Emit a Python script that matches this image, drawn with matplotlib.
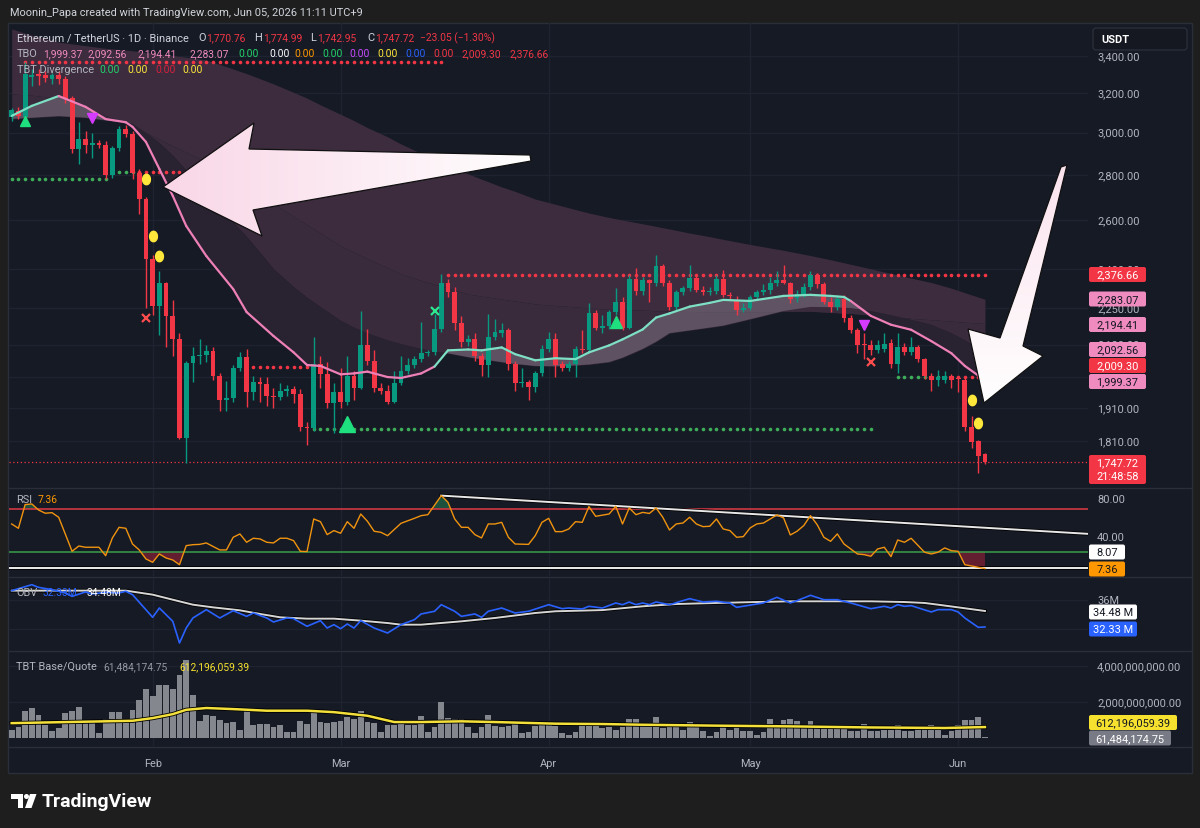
import numpy as np
import matplotlib
matplotlib.use("Agg")
import matplotlib.pyplot as plt
import matplotlib.patheffects as pe
from matplotlib.colors import LinearSegmentedColormap
from matplotlib.patches import Polygon, Rectangle, FancyBboxPatch, Circle

plt.rcParams['font.family'] = ['Roboto', 'DejaVu Sans']

# ETH/USDT daily candles, index 0 = 2026-01-11, last = 2026-06-05
opens = [3078, 3110, 3080, 3285, 3305, 3295, 3278, 3300, 3275, 3175,
         2920, 2970, 2940, 2948, 2940, 2800, 2925, 3020, 2995, 2810,
         2690, 2440, 2260, 2345, 2220, 2140, 1820, 2058, 2080, 2085,
         2098, 2015, 1935, 1942, 2040, 2078, 1960, 1993, 1987, 1950,
         1945, 1965, 1970, 1955, 1853, 1848, 2055, 2020, 1925, 1960,
         1931, 2015, 1975, 2120, 2065, 1975, 1965, 1930, 1990, 2030,
         2050, 2070, 2090, 2095, 2175, 2345, 2310, 2195, 2130, 2140,
         2080, 2050, 2145, 2160, 2170, 2055, 1990, 1993, 1978, 2025,
         2105, 2140, 2055, 2040, 2055, 2105, 2100, 2232, 2180, 2185,
         2235, 2275, 2180, 2360, 2315, 2355, 2345, 2410, 2345, 2255,
         2310, 2325, 2365, 2320, 2310, 2315, 2360, 2300, 2280, 2245,
         2252, 2290, 2310, 2318, 2345, 2355, 2345, 2288, 2305, 2330,
         2375, 2340, 2275, 2255, 2285, 2215, 2170, 2120, 2118, 2100,
         2105, 2125, 2055, 2110, 2095, 2110, 2070, 2015, 2000, 2002,
         2015, 2006, 2000, 1852, 1810, 1770.76]
highs = [3125, 3130, 3370, 3330, 3330, 3320, 3310, 3320, 3290, 3185,
         3055, 3010, 3000, 2965, 2960, 2935, 3035, 3040, 3010, 2825,
         2700, 2455, 2390, 2350, 2280, 2160, 2065, 2110, 2140, 2120,
         2110, 2025, 1998, 2050, 2095, 2105, 2015, 2010, 2010, 1975,
         1990, 1985, 1980, 1970, 1868, 2145, 2080, 2060, 1990, 2040,
         2080, 2030, 2240, 2175, 2100, 1990, 1985, 2030, 2080, 2075,
         2080, 2200, 2100, 2230, 2381, 2360, 2330, 2220, 2155, 2160,
         2090, 2230, 2210, 2197, 2180, 2065, 2040, 2000, 2030, 2120,
         2165, 2160, 2065, 2065, 2115, 2170, 2270, 2245, 2225, 2245,
         2325, 2290, 2375, 2405, 2370, 2360, 2455, 2420, 2355, 2320,
         2335, 2415, 2380, 2335, 2330, 2375, 2395, 2310, 2295, 2270,
         2300, 2320, 2340, 2370, 2390, 2415, 2350, 2320, 2345, 2390,
         2385, 2350, 2290, 2300, 2300, 2225, 2180, 2160, 2135, 2135,
         2160, 2140, 2160, 2125, 2145, 2120, 2075, 2025, 2035, 2030,
         2020, 2010, 2010, 1885, 1812, 1774.99]
lows = [3060, 3070, 3070, 3240, 3245, 3260, 3250, 3250, 3150, 2900,
        2850, 2900, 2880, 2925, 2780, 2785, 2910, 2980, 2780, 2625,
        2250, 2225, 2155, 2110, 2080, 1815, 1746, 1995, 2055, 2060,
        2000, 1900, 1900, 1930, 2030, 1915, 1935, 1930, 1918, 1910,
        1935, 1950, 1925, 1840, 1797, 1840, 1975, 1910, 1834, 1910,
        1920, 1935, 1970, 2050, 1960, 1955, 1922, 1925, 1985, 2020,
        2040, 2060, 2080, 2085, 2165, 2290, 2170, 2110, 2115, 2065,
        2015, 2010, 2135, 2145, 2034, 1965, 1978, 1935, 1960, 2015,
        2095, 2010, 2030, 2030, 2010, 2090, 2095, 2170, 2160, 2175,
        2225, 2170, 2175, 2300, 2300, 2275, 2335, 2335, 2245, 2245,
        2300, 2315, 2310, 2300, 2300, 2305, 2290, 2285, 2225, 2235,
        2245, 2280, 2300, 2305, 2335, 2340, 2270, 2275, 2290, 2320,
        2325, 2265, 2235, 2245, 2200, 2160, 2090, 2070, 2085, 2090,
        2095, 2040, 2025, 2085, 2085, 2060, 2005, 1965, 1980, 1990,
        1975, 1960, 1840, 1790, 1717, 1742.95]
closes = [3113, 3085, 3305, 3300, 3290, 3280, 3298, 3275, 3170, 2920,
          2970, 2940, 2948, 2940, 2800, 2925, 3020, 2995, 2810, 2690,
          2440, 2260, 2345, 2220, 2140, 1820, 2058, 2080, 2085, 2098,
          2015, 1935, 1942, 2040, 2078, 1960, 1993, 1987, 1950, 1945,
          1965, 1970, 1955, 1853, 1848, 2055, 2020, 1925, 1960, 1931,
          2015, 1975, 2120, 2065, 1975, 1965, 1930, 1990, 2030, 2050,
          2070, 2090, 2095, 2175, 2345, 2310, 2195, 2130, 2140, 2080,
          2050, 2145, 2165, 2170, 2055, 1990, 1993, 1978, 2025, 2105,
          2140, 2050, 2040, 2055, 2105, 2100, 2232, 2180, 2185, 2235,
          2275, 2180, 2360, 2315, 2355, 2345, 2410, 2345, 2255, 2310,
          2325, 2365, 2320, 2310, 2315, 2360, 2300, 2295, 2245, 2252,
          2290, 2310, 2320, 2345, 2355, 2345, 2285, 2305, 2330, 2375,
          2340, 2275, 2255, 2285, 2215, 2170, 2120, 2118, 2100, 2120,
          2122, 2055, 2110, 2095, 2110, 2070, 2015, 2000, 2010, 2015,
          2000, 2004, 1852, 1808, 1765, 1747.72]

# TBT Base/Quote volume, billions
volume_bn = [0.46, 0.59, 1.48, 1.67, 1.30, 0.74, 0.41, 0.56, 1.39, 1.48,
             1.70, 0.83, 0.83, 0.28, 1.06, 1.43, 1.43, 1.02, 1.56, 2.13,
             2.72, 2.31, 2.93, 2.93, 2.72, 3.52, 4.35, 2.41, 0.96, 1.30,
             1.20, 1.02, 0.83, 0.87, 0.43, 1.67, 0.70, 0.80, 0.80, 0.59,
             0.74, 0.33, 0.31, 0.96, 0.80, 1.39, 0.87, 0.83, 0.89, 0.96,
             1.15, 1.07, 1.52, 0.87, 0.83, 0.33, 0.74, 0.74, 0.96, 0.74,
             0.74, 1.20, 0.31, 0.59, 1.98, 1.11, 1.06, 1.06, 0.61, 0.28,
             0.61, 1.30, 0.67, 0.61, 0.67, 0.80, 0.28, 0.33, 0.69, 0.80,
             0.74, 0.69, 0.28, 0.19, 0.31, 0.74, 0.87, 0.80, 0.56, 0.61,
             0.46, 0.59, 1.06, 1.06, 0.65, 0.65, 1.17, 0.56, 0.59, 0.65,
             0.46, 0.87, 0.80, 0.37, 0.13, 0.31, 0.59, 0.46, 0.74, 0.37,
             0.37, 0.19, 0.33, 1.06, 0.69, 0.98, 1.06, 0.96, 0.61, 0.93,
             0.59, 0.59, 0.59, 0.56, 0.59, 0.41, 0.41, 0.80, 0.41, 0.41,
             0.46, 0.46, 0.70, 0.41, 0.37, 0.56, 0.56, 0.70, 0.59, 0.19,
             0.41, 0.74, 1.02, 1.02, 1.17, 0.061]
vol_ma_idx = [0, 18, 21, 24, 26, 29, 33, 38, 44, 48, 53, 57, 61, 67, 72, 78,
              81, 88, 94, 105, 116, 128, 139, 145]
vol_ma_val = [0.83, 0.96, 1.11, 1.33, 1.57, 1.67, 1.61, 1.52, 1.52, 1.44, 1.24,
              0.89, 0.89, 0.93, 0.89, 0.83, 0.80, 0.78, 0.74, 0.69, 0.65, 0.59,
              0.56, 0.612]

# TBO lines, read at these candle positions
band_idx = [0, 3, 7, 11, 14, 17, 18, 20, 22, 24, 26, 29, 33, 35, 39, 42, 44, 46,
            49, 51, 53, 56, 58, 61, 63, 65, 68, 70, 73, 75, 78, 81, 84, 86, 89,
            91, 94, 96, 98, 101, 104, 106, 110, 115, 119, 122, 124, 125, 128,
            131, 134, 137, 140, 142, 145]
tbo_fast = [3084, 3135, 3186, 3130, 3068, 3052, 3029, 2955, 2827, 2705, 2575,
            2451, 2322, 2236, 2150, 2093, 2050, 2047, 2019, 2022, 2028, 2010,
            2007, 2022, 2045, 2100, 2103, 2100, 2110, 2087, 2066, 2073, 2070,
            2093, 2117, 2138, 2173, 2216, 2231, 2256, 2270, 2281, 2277, 2296,
            2300, 2296, 2292, 2277, 2222, 2190, 2172, 2132, 2090, 2047, 1999.37]
tbo_mid1 = [3069, 3075, 3083, 3075, 3062, 3050, 3045, 3000, 2950, 2890, 2820,
            2720, 2590, 2530, 2400, 2330, 2290, 2255, 2205, 2180, 2160, 2135,
            2122, 2105, 2097, 2090, 2077, 2070, 2060, 2054, 2047, 2046, 2049,
            2052, 2060, 2075, 2105, 2130, 2160, 2170, 2180, 2187, 2210, 2240,
            2255, 2254, 2252, 2251, 2240, 2225, 2208, 2190, 2160, 2135, 2092.56]
tbo_mid2 = [3197, 3190, 3175, 3130, 3085, 3045, 3029, 3000, 2968, 2936, 2905,
            2860, 2780, 2745, 2672, 2615, 2580, 2545, 2493, 2466, 2440, 2405,
            2380, 2355, 2340, 2326, 2303, 2295, 2284, 2277, 2266, 2260, 2255,
            2251, 2246, 2245, 2243, 2241, 2240, 2238, 2237, 2236, 2236, 2238,
            2239, 2235, 2232, 2231, 2225, 2219, 2213, 2208, 2203, 2199, 2194.41]
tbo_slow = [3556, 3520, 3480, 3460, 3445, 3435, 3431, 3422, 3413, 3404, 3395,
            3380, 3330, 3305, 3250, 3205, 3175, 3140, 3092, 3060, 3025, 2980,
            2945, 2900, 2875, 2845, 2804, 2780, 2745, 2725, 2691, 2668, 2645,
            2630, 2611, 2600, 2584, 2573, 2562, 2545, 2530, 2519, 2498, 2474,
            2453, 2436, 2424, 2418, 2400, 2382, 2364, 2347, 2325, 2308, 2283.07]

# dotted support / resistance levels
level_start = [0, 2, 15, 19, 36, 45, 65, 132, 141]
level_end = [14, 64, 18, 33, 44, 128, 145, 140, 145]
level_price = [2781, 3370, 2813, 2813, 2043, 1846, 2376.66, 2009.30, 2009.30]
level_kind = ['sup', 'res', 'sup', 'res', 'res', 'sup', 'res', 'sup', 'res']

# signal markers
up_idx = [2, 50, 90]
up_price = [3059, 1861, 2200]
up_size = [7, 12, 9]
down_idx = [12, 127]
down_price = [3074, 2189]
drop_idx = [20, 21, 22, 143, 144]
drop_price = [2781, 2533, 2451, 1936, 1864]
xred_idx = [20, 128]
xred_price = [2214, 2060]
xgreen_idx = [63]
xgreen_price = [2240]

# RSI
rsi_idx = [0, 1, 2, 3, 4, 5, 6, 7, 9, 10, 11, 13, 14, 15, 16, 17, 18, 19, 20,
           21, 22, 23, 24, 25, 26, 27, 28, 29, 31, 32, 33, 34, 35, 36, 37, 38,
           39, 40, 41, 42, 43, 44, 45, 46, 47, 48, 49, 50, 51, 52, 53, 54, 55,
           56, 58, 60, 61, 62, 64, 65, 66, 67, 68, 69, 70, 71, 72, 73, 74, 75,
           77, 78, 79, 80, 81, 82, 83, 84, 85, 86, 87, 89, 90, 91, 92, 93, 94,
           95, 96, 97, 98, 99, 100, 101, 102, 103, 104, 105, 106, 107, 108, 109,
           110, 111, 112, 113, 114, 115, 116, 117, 118, 119, 120, 121, 122, 123,
           124, 126, 127, 128, 129, 130, 131, 132, 133, 134, 136, 137, 138, 139,
           140, 141, 142, 144, 145]
rsi_val = [53.9, 49.4, 74.1, 74.8, 68.5, 65.1, 65.7, 60.9, 25.4, 30.9, 29.6,
           29.6, 20.8, 39.3, 50.4, 49.4, 33.0, 26.8, 17.4, 13.9, 22.6, 18.4,
           16.3, 11.4, 31.3, 32.3, 32.6, 34.1, 26.8, 26.8, 40.0, 43.5, 34.8,
           39.0, 38.3, 34.8, 34.1, 39.0, 39.0, 36.5, 25.4, 25.1, 59.1, 56.3,
           42.8, 47.0, 44.2, 56.3, 49.4, 64.3, 56.7, 46.3, 45.2, 41.7, 54.6,
           59.8, 62.6, 63.6, 83.5, 76.5, 59.1, 50.4, 50.4, 42.8, 39.3, 53.9,
           53.9, 55.6, 40.0, 33.0, 32.6, 41.7, 55.6, 59.8, 45.9, 45.9, 48.7,
           56.3, 55.6, 72.0, 61.9, 64.3, 72.3, 53.9, 70.6, 63.6, 66.0, 64.9,
           70.6, 60.9, 47.6, 53.9, 54.9, 60.9, 53.9, 51.1, 51.5, 59.1, 48.7,
           47.0, 40.0, 40.7, 49.7, 53.9, 54.9, 59.1, 63.3, 60.2, 42.4, 46.3,
           52.2, 62.6, 53.2, 40.0, 35.8, 43.5, 33.0, 22.6, 21.9, 20.2, 27.8,
           29.6, 19.8, 37.2, 34.8, 39.0, 24.4, 22.6, 24.4, 28.9, 26.0, 25.4,
           11.4, 8.7, 7.36]
rsi_trend_idx = [64, 160.6]
rsi_trend_val = [83.5, 43.5]
rsi_floor = 8.07

# OBV (millions) and its moving average
obv_idx = [0, 3, 4, 6, 8, 9, 11, 12, 14, 16, 17, 18, 21, 22, 24, 25, 26, 27, 29,
           31, 33, 35, 36, 38, 39, 41, 42, 44, 46, 47, 48, 49, 50, 51, 52, 54,
           56, 58, 60, 61, 63, 64, 66, 67, 69, 70, 71, 73, 75, 77, 80, 82, 83,
           85, 86, 88, 90, 91, 92, 93, 94, 95, 96, 98, 101, 103, 105, 107, 108,
           111, 112, 114, 116, 117, 119, 121, 123, 125, 128, 130, 131, 132, 133,
           134, 137, 138, 140, 141, 142, 144, 145]
obv_val = [37.22, 38.02, 37.66, 37.35, 36.90, 36.45, 37.04, 36.77, 36.99, 36.90,
           37.13, 36.68, 33.63, 34.88, 33.09, 30.17, 32.19, 33.54, 34.66, 33.54,
           34.52, 33.76, 34.21, 33.54, 33.00, 33.54, 33.45, 32.42, 33.18, 32.19,
           32.64, 32.10, 32.73, 32.19, 33.18, 32.19, 31.52, 32.64, 33.31, 34.08,
           34.44, 35.33, 34.44, 33.76, 34.08, 33.63, 34.44, 34.88, 34.21, 34.44,
           35.33, 34.79, 34.88, 34.75, 35.11, 34.88, 35.56, 35.33, 35.69, 35.33,
           35.56, 35.33, 35.69, 35.33, 36.14, 35.69, 35.78, 35.56, 34.97, 35.42,
           35.56, 36.32, 35.56, 35.87, 36.59, 36.00, 36.00, 35.56, 34.79, 35.11,
           34.88, 35.33, 35.11, 35.20, 34.35, 34.66, 34.66, 34.35, 33.54, 32.28,
           32.33]
obv_ma_idx = [0, 17, 21, 24, 27, 30, 34, 37, 40, 44, 48, 52, 56, 58, 61, 67, 72,
              78, 81, 88, 94, 99, 105, 111, 116, 122, 128, 133, 136, 138, 141, 145]
obv_ma_val = [37.22, 37.22, 36.68, 36.0, 35.33, 34.97, 34.57, 34.08, 33.63, 33.45,
              33.45, 33.18, 32.86, 32.64, 32.64, 33.09, 33.54, 34.21, 34.44, 34.60,
              35.11, 35.42, 35.56, 35.69, 35.78, 35.78, 35.78, 35.69, 35.56, 35.33,
              34.97, 34.48]

month_idx = [21, 49, 80, 110, 141]
month_labels = ['Feb', 'Mar', 'Apr', 'May', 'Jun']
price_ticks = [1810, 1910, 2010, 2120, 2250, 2400, 2600, 2800, 3000, 3200, 3400]
price_ticks_shown = [1810, 1910, 2120, 2250, 2400, 2600, 2800, 3000, 3200, 3400]

W, H = 1200, 829
BG = '#161a25'
GRID = '#1f2330'
SEP = '#2a2e39'
GREEN = '#089981'
RED = '#f23645'
PINK = '#ee80b8'
TEAL = '#7ddfc3'
TXT = '#b2b5be'
FS = 7.9
FSN = 7.4   # numbers inside the legend rows

fig = plt.figure(figsize=(W / 100, H / 100), dpi=100)
fig.patch.set_facecolor('#1e1e1e')

back = fig.add_axes([0, 0, 1, 1], zorder=0)
back.set_xlim(0, W)
back.set_ylim(H, 0)
back.axis('off')
back.add_patch(Rectangle((8, 24), 1184, 750, fc=BG, ec=SEP, lw=1))
for yy in (489, 578, 652, 748):
    back.plot([8, 1192], [yy, yy], color=SEP, lw=1)


def pane(y0, y1):
    ax = fig.add_axes([9 / W, 1 - y1 / H, 1079 / W, (y1 - y0) / H], zorder=1)
    ax.set_facecolor('none')
    ax.set_xlim(-0.4, 160.35)
    for s in ax.spines.values():
        s.set_visible(False)
    ax.tick_params(which='both', left=False, bottom=False,
                   labelleft=False, labelbottom=False)
    for m in month_idx:
        ax.axvline(m, color=GRID, lw=1, zorder=0)
    return ax


n = len(closes)
idx = np.arange(n)
o, h, l, c = (np.array(a, float) for a in (opens, highs, lows, closes))

# ---------------- price pane ----------------
px = pane(24, 488)
px.set_yscale('log')
px.set_ylim(1678.6, 3591)
px.yaxis.set_minor_locator(plt.NullLocator())
for t in price_ticks:
    px.axhline(t, color=GRID, lw=1, zorder=0)

bi = np.array(band_idx)
fast = np.array(tbo_fast)
m1 = np.array(tbo_mid1)
m2 = np.array(tbo_mid2)
slow = np.array(tbo_slow)
px.fill_between(bi, slow, m2, color='#3d2c3e', lw=0, zorder=1)
px.fill_between(bi, m2, m1, color='#392a3c', lw=0, zorder=1)
bull = fast >= m1
px.fill_between(bi, fast, m1, where=~bull, interpolate=True,
                color='#292231', lw=0, zorder=1)
px.fill_between(bi, fast, m1, where=bull, interpolate=True,
                color='#a49cab', alpha=0.35, lw=0, zorder=1.2)

for s, e, p, k in zip(level_start, level_end, level_price, level_kind):
    xs = np.arange(s, e + 1)
    px.plot(xs, np.full(len(xs), p), ls='none', marker='o', ms=2.6, mew=0,
            color=RED if k == 'res' else '#3fae5a', zorder=2)
px.axhline(c[-1], color=RED, ls=(0, (1, 2)), lw=0.9, zorder=2)

up = c >= o
col = np.where(up, GREEN, RED)
px.vlines(idx, np.minimum(l, np.minimum(o, c)), np.maximum(h, np.maximum(o, c)),
          colors=col, lw=1, zorder=3)
lo_b = np.minimum(o, c)
hgt = np.maximum(np.abs(c - o), lo_b * 0.0012)
px.bar(idx, hgt, bottom=lo_b, width=0.72, color=col, lw=0, zorder=3)

for i in range(len(bi) - 1):
    mid = 0.5 * (bi[i] + bi[i + 1])
    cc = TEAL if (mid < 8 or 63 <= mid <= 126) else PINK
    px.plot(bi[i:i + 2], fast[i:i + 2], color=cc, lw=1.6, zorder=4,
            solid_capstyle='round')

for xi, yi, ms in zip(up_idx, up_price, up_size):
    px.plot(xi, yi, ls='none', marker='^', ms=ms, color='#1fe07f', zorder=5)
px.plot(down_idx, down_price, ls='none', marker='v', ms=7, color='#d53bff', zorder=5)
th = np.linspace(0, 2 * np.pi, 40)
drop = np.c_[0.75 * np.cos(th), np.sin(th)]
px.plot(drop_idx, drop_price, ls='none', marker=drop, ms=7.5, color='#ffe83b', zorder=5)
px.plot(xred_idx, xred_price, ls='none', marker='x', ms=6, mew=1.6, color='#ff4d4d', zorder=5)
px.plot(xgreen_idx, xgreen_price, ls='none', marker='x', ms=6, mew=1.6, color='#2ee88f', zorder=5)

# ---------------- RSI pane ----------------
rx = pane(490, 577)
rx.set_ylim(-0.4, 90.4)
ri = np.array(rsi_idx, float)
rv = np.array(rsi_val)
rx.axhline(70, color='#e03a45', lw=1.1, zorder=2)
rx.axhline(25, color='#3a9e4a', lw=1.1, zorder=2)
rx.axhline(rsi_floor, color='white', lw=1.3, zorder=2,
           path_effects=[pe.Stroke(linewidth=2.6, foreground='black'), pe.Normal()])
rx.fill_between(ri, rv, 25, where=rv < 25, interpolate=True, color='#a3233a', alpha=0.55, lw=0)
rx.fill_between(ri, rv, 70, where=rv > 70, interpolate=True, color='#1f6b48', alpha=0.7, lw=0)
rx.plot(rsi_trend_idx, rsi_trend_val, color='#e8e8e8', lw=1.4, zorder=3,
        path_effects=[pe.Stroke(linewidth=2.6, foreground='black'), pe.Normal()])
rx.plot(ri, rv, color='#f0930f', lw=1.0, zorder=4)

# ---------------- OBV pane ----------------
ox = pane(579, 651)
ox.set_ylim(29.23, 38.92)
for t in (32, 36):
    ox.axhline(t, color=GRID, lw=1, zorder=0)
ox.plot(obv_ma_idx, obv_ma_val, color='#d6d6d6', lw=1.4, zorder=2,
        path_effects=[pe.Stroke(linewidth=2.6, foreground='black'), pe.Normal()])
ox.plot(obv_idx, obv_val, color='#2962ff', lw=1.2, zorder=3)

# ---------------- volume pane ----------------
vx = pane(653, 747)
vx.set_ylim(-0.44, 4.78)
for t in (2, 4):
    vx.axhline(t, color=GRID, lw=1, zorder=0)
vx.bar(idx, volume_bn, width=0.86, color='#85878f', lw=0, zorder=2)
vx.plot(vol_ma_idx, vol_ma_val, color='#f3e03a', lw=1.8, zorder=3,
        path_effects=[pe.Stroke(linewidth=3, foreground='black'), pe.Normal()])
vx.set_xticks(month_idx, month_labels)
vx.tick_params(axis='x', labelbottom=True, length=0, pad=9, labelsize=FS,
               labelcolor=TXT)

# ---------------- overlay: scales, legends, annotations ----------------
ov = fig.add_axes([0, 0, 1, 1], zorder=5)
ov.set_xlim(0, W)
ov.set_ylim(H, 0)
ov.set_autoscale_on(False)
ov.axis('off')


def ypx(ax, v):
    return H - ax.transData.transform((0, v))[1]


def txt(x, y, s, color=TXT, fs=FS, **kw):
    ov.text(x, y, s, color=color, fontsize=fs, va='center', ha='left', **kw)


def tag(y, s, fc, tc, w=57, h=15, fs=FS):
    ov.add_patch(FancyBboxPatch((1089, y - h / 2), w, h,
                                boxstyle='round,pad=0,rounding_size=2',
                                fc=fc, ec='none', zorder=10))
    ov.text(1089 + w / 2, y, s, color=tc, fontsize=fs, ha='center',
            va='center', zorder=11)


for t in price_ticks_shown:
    txt(1097, ypx(px, t), f'{t:,.2f}')
txt(1097, ypx(rx, 80), '80.00')
txt(1097, ypx(rx, 40), '40.00')
txt(1097, ypx(ox, 36), '36M')
txt(1097, ypx(vx, 4), '4,000,000,000.00')
txt(1097, ypx(vx, 2), '2,000,000,000.00')

tag(275.5, f'{level_price[6]:,.2f}', RED, 'white')
tag(300, f'{tbo_slow[-1]:,.2f}', '#f08bc0', '#131722')
tag(325.5, f'{tbo_mid2[-1]:,.2f}', '#f08bc0', '#131722')
tag(350.5, f'{tbo_mid1[-1]:,.2f}', '#f08bc0', '#131722')
tag(366.5, f'{level_price[7]:,.2f}', RED, 'white')
tag(382.5, f'{tbo_fast[-1]:,.2f}', '#f08bc0', '#131722')
ov.add_patch(FancyBboxPatch((1089, 456), 57, 29, boxstyle='round,pad=0,rounding_size=2',
                            fc=RED, ec='none', zorder=10))
ov.text(1117.5, 463.5, f'{closes[-1]:,.2f}', color='white', fontsize=FS,
        ha='center', va='center', zorder=11)
ov.text(1117.5, 477, '21:48:58', color='white', fontsize=FS,
        ha='center', va='center', zorder=11)
tag(553, f'{rsi_floor:.2f}', 'white', '#131722', w=36)
tag(570, f'{rsi_val[-1]:.2f}', '#ff9800', '#131722', w=36)
tag(613, f'{obv_ma_val[-1]:.2f} M', 'white', '#131722', w=48)
tag(630, f'{obv_val[-1]:.2f} M', '#2962ff', 'white', w=48)
tag(723.5, '612,196,059.39', '#f5e12e', '#131722', w=88)
tag(739, '61,484,174.75', '#787b86', 'white', w=82)

ov.add_patch(FancyBboxPatch((1093, 29), 94, 22, boxstyle='round,pad=0,rounding_size=3',
                            fc='#151821', ec='#2a2e39', lw=1, zorder=10))
txt(1101, 40, 'USDT', color='white', fontweight='bold', zorder=11)

# header
txt(10, 13, 'Moonin_Papa created with TradingView.com, Jun 05, 2026 11:11 UTC+9',
    color='#d1d4dc', fs=7.9)
txt(17, 38, 'Ethereum / TetherUS \u00b7 1D \u00b7 Binance', color='#d1d4dc')
for x, s in [(198, 'O'), (254, 'H'), (310, 'L'), (367, 'C')]:
    txt(x, 38, s, color='#d1d4dc')
for x, s in [(206, f'{opens[-1]:,.2f}'), (263, f'{highs[-1]:,.2f}'),
             (317, f'{lows[-1]:,.2f}'), (375, f'{closes[-1]:,.2f}'),
             (420, '\u221223.05 (\u22121.30%)')]:
    txt(x, 38, s, color=RED, fs=FSN)
txt(17, 54, 'TBO')
tbo_cols = ['#f08bc0'] * 4 + ['#22d36b', '#ffffff', '#ff9800', '#22d36b', '#c84bff',
                              '#ffe83b', '#2962ff', '#f23645', '#f23645', '#f23645']
tbo_txt = [f'{tbo_fast[-1]:,.2f}', f'{tbo_mid1[-1]:,.2f}', f'{tbo_mid2[-1]:,.2f}',
           f'{tbo_slow[-1]:,.2f}'] + ['0.00'] * 8 + [f'{level_price[7]:,.2f}',
                                                    f'{level_price[6]:,.2f}']
tbo_x = [43, 88, 137, 189, 238, 269, 294, 322, 349, 377, 405, 433, 462, 510]
for x, s, cc in zip(tbo_x, tbo_txt, tbo_cols):
    txt(x, 54, s, color=cc, fs=FSN)
txt(17, 70, 'TBT Divergence')
for x, cc in zip([99, 127, 155, 182], ['#22d36b', '#ffe83b', '#d6203c', '#ffe83b']):
    txt(x, 70, '0.00', color=cc, fs=FSN)

txt(16, 500, 'RSI')
txt(38, 500, f'{rsi_val[-1]:.2f}', color='#ff9800', fs=FSN)
txt(16, 593, 'OBV')
txt(43, 593, f'{obv_val[-1]:.2f}M', color='#2962ff', fs=FSN)
txt(87, 593, f'{obv_ma_val[-1]:.2f}M', color='white', fs=FSN)
txt(16, 667, 'TBT Base/Quote')
txt(103, 667, '61,484,174.75', color='#9598a1', fs=FSN)
txt(179, 667, '612,196,059.39', color='#f5e12e', fs=FSN)

# hand-drawn arrows
left_arrow = [(163, 188), (254, 124), (249, 150), (530, 156), (531, 162),
              (253, 211), (262, 237)]
right_arrow = [(1067, 166), (1023, 347), (1043, 357), (984, 404), (968, 330),
               (1000, 339), (1061, 168)]
cm_l = LinearSegmentedColormap.from_list('la', ['#f9d6e6', '#ffffff'])
cm_r = LinearSegmentedColormap.from_list('ra', ['#ffffff', '#fbe3ee'])
for pts, cm, ext, grad in [
        (left_arrow, cm_l, (160, 535, 240, 120), np.linspace(0, 1, 256)[None, :]),
        (right_arrow, cm_r, (960, 1070, 165, 410), np.linspace(0, 1, 256)[:, None])]:
    poly = Polygon(pts, closed=True, fc='none', ec='#101010', lw=0.9, zorder=21)
    ov.add_patch(poly)
    im = ov.imshow(grad, extent=ext, cmap=cm, aspect='auto', zorder=20,
                   interpolation='bilinear')
    im.set_clip_path(poly)

# TradingView logo
ov.add_patch(Polygon([(11, 795), (23, 795), (23, 809), (17.5, 809), (17.5, 800), (11, 800)],
                     closed=True, fc='white', ec='none'))
ov.add_patch(Circle((26.5, 797.5), 2.5, fc='white', ec='none'))
ov.add_patch(Polygon([(30, 795), (36.5, 795), (31.5, 809), (25, 809)], closed=True,
                     fc='white', ec='none'))
txt(42, 802, 'TradingView', color='white', fs=14, fontweight='bold')

fig.savefig('out.png', dpi=100, facecolor=fig.get_facecolor())
